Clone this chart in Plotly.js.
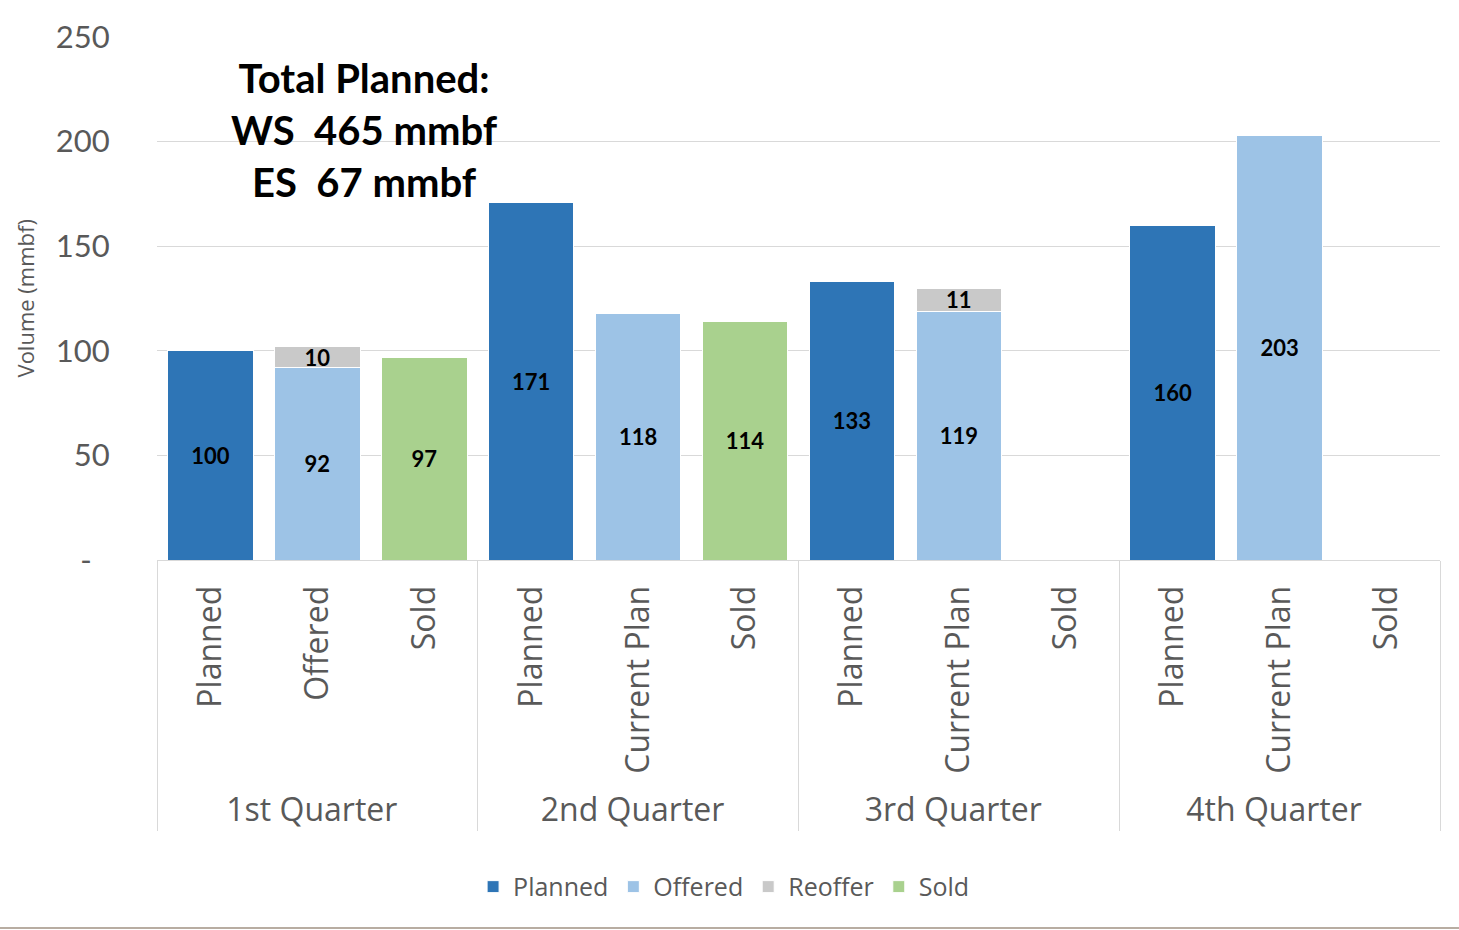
<!DOCTYPE html>
<html>
<head>
<meta charset="utf-8">
<script src="https://cdn.plot.ly/plotly-3.0.1.min.js"></script>
<style>html,body{margin:0;padding:0;background:#fff;}#chart{width:1459px;height:930px;}</style>
</head>
<body>
<div id="chart"></div>
<script>
const quarters = ["1st Quarter","1st Quarter","1st Quarter","2nd Quarter","2nd Quarter","2nd Quarter","3rd Quarter","3rd Quarter","3rd Quarter","4th Quarter","4th Quarter","4th Quarter"];
// Q1 "Sold" carries a zero-width space so that Plotly's trace-order keeps "Current Plan" before "Sold" in later quarters
const subcats = ["Planned","Offered","Sold\u200b","Planned","Current Plan","Sold","Planned","Current Plan","Sold","Planned","Current Plan","Sold"];
const planned = [100,null,null,171,null,null,133,null,null,160,null,null];
const offered = [null,92,null,null,118,null,null,119,null,null,203,null];
const reoffer = [null,10,null,null,null,null,null,11,null,null,null,null];
const sold    = [null,null,97,null,null,114,null,null,null,null,null,null];
const yTickVals = [0,50,100,150,200,250];
const yTickText = ["-\u2007","50","100","150","200","250"];
const noteLines = ["Total Planned:","WS\u00a0 465 mmbf","ES\u00a0 67 mmbf"];

function lbl(arr){ return arr.map(v => v == null ? "" : String(v)); }
const labelFont = {family:"Lato, Carlito, sans-serif", size:22, color:"#000", weight:"bold"};
function mk(name, vals, color){
  return {
    type:"bar", name:name, x:[quarters, subcats], y:vals,
    marker:{color:color, line:{color:"#ffffff", width:1}},
    text:lbl(vals), textposition:"inside", insidetextanchor:"middle", textangle:0,
    textfont:labelFont, constraintext:"none", cliponaxis:false,
    hoverinfo:"y"
  };
}
const data = [
  mk("Planned", planned, "#2E75B6"),
  mk("Offered", offered, "#9DC3E6"),
  mk("Reoffer", reoffer, "#C9C9C9"),
  mk("Sold", sold, "#A9D18E")
];
const layout = {
  width:1459, height:930,
  margin:{l:157, r:19, t:37, b:370, pad:0},
  paper_bgcolor:"#fff", plot_bgcolor:"#fff",
  barmode:"stack", bargap:0.2,
  font:{family:"Open Sans, sans-serif", color:"#595959"},
  xaxis:{
    type:"multicategory", tickangle:-90,
    tickfont:{family:"Open Sans, sans-serif", size:32, color:"#595959"},
    showline:true, linecolor:"#d9d9d9", linewidth:1,
    showdividers:true, dividercolor:"#d9d9d9", dividerwidth:1,
    ticks:"", ticklabelstandoff:12, showgrid:false, automargin:false
  },
  yaxis:{
    range:[0,250], tickvals:yTickVals, ticktext:yTickText,
    tickfont:{family:"Lato, sans-serif", size:31, color:"#595959"},
    showgrid:true, gridcolor:"#d9d9d9", gridwidth:1, zeroline:false,
    ticks:"outside", ticklen:40, tickcolor:"rgba(0,0,0,0)", automargin:false
  },
  showlegend:true,
  legend:{orientation:"h", x:0.442, xanchor:"center", y:-0.625, yanchor:"middle",
    font:{family:"Open Sans, sans-serif", size:25, color:"#595959"}, traceorder:"normal",
    itemwidth:30},
  annotations:[
    {xref:"paper", yref:"paper", x:-0.1029, y:0.5, xanchor:"center", yanchor:"middle",
     text:"Volume (mmbf)", textangle:-90,
     showarrow:false, font:{family:"Open Sans, sans-serif", size:22, color:"#595959"}},
    {xref:"paper", yref:"paper", x:(364-157)/1283, y:(560-130)/523, xanchor:"center", yanchor:"middle",
     text:noteLines.join("<br>"), align:"center", showarrow:false,
     font:{family:"Lato, sans-serif", size:40, color:"#000", weight:"bold"}}
  ],
  shapes:[
    {type:"line", xref:"paper", yref:"paper", x0:-157/1283, x1:1+19/1283, y0:(560-928)/523, y1:(560-928)/523,
     line:{color:"#B8ADA2", width:2}}
  ]
};
Plotly.newPlot("chart", data, layout, {displayModeBar:false, staticPlot:true});
</script>
</body>
</html>
